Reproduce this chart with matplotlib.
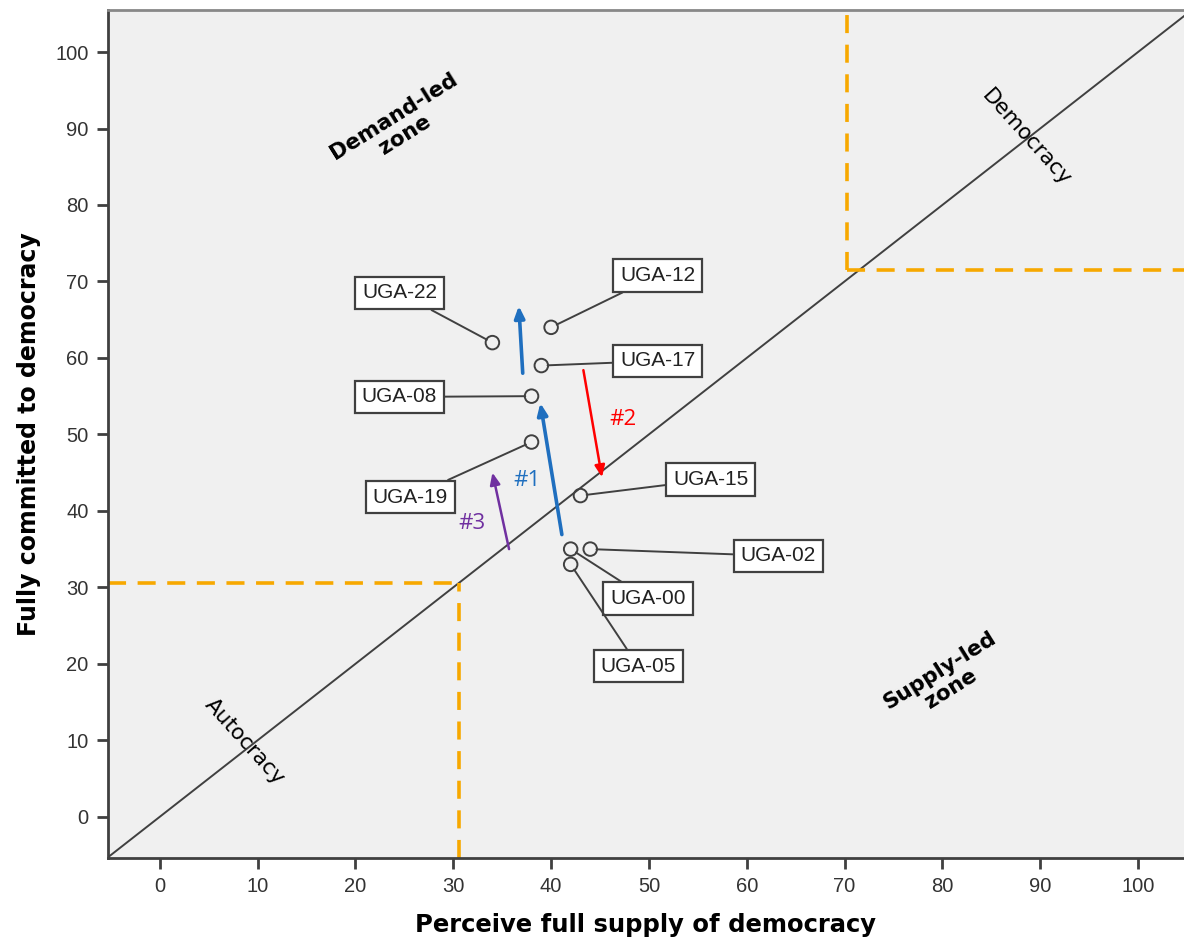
import matplotlib
matplotlib.use("Agg")
import matplotlib.pyplot as plt

# country-year points (supply x, demand y)
labels = ["UGA-22", "UGA-12", "UGA-17", "UGA-08", "UGA-19",
          "UGA-15", "UGA-00", "UGA-02", "UGA-05"]
supply = [34, 40, 39, 38, 38, 43, 42, 44, 42]
demand = [62, 64, 59, 55, 49, 42, 35, 35, 33]
# where the label boxes sit
label_x = [24.5, 50.9, 50.9, 24.5, 25.6, 56.3, 49.9, 63.2, 48.9]
label_y = [68.5, 70.8, 59.6, 54.9, 41.8, 44.1, 28.5, 34.1, 19.7]

# trajectory arrows: name, start, end, colour, label position
arrows = [
    ("#1", (41.1, 36.9), (38.9, 54.1), "#1f6fbf", (37.5, 44.0)),
    ("", (37.1, 58.0), (36.7, 66.8), "#1f6fbf", None),
    ("#2", (43.3, 58.4), (45.2, 44.4), "#ff0000", (47.4, 51.9)),
    ("#3", (35.7, 35.0), (34.0, 45.0), "#7030a0", (31.9, 38.4)),
]

low_cut = 30.6
high_x, high_y = 70.2, 71.5

fig = plt.figure(figsize=(11.84, 9.5), dpi=100)
ax = fig.add_axes([0.0912, 0.0968, 0.9088, 0.8927])
ax.set_facecolor("#f0f0f0")
ax.set_xlim(-5.3, 104.7)
ax.set_ylim(-5.4, 105.5)

dark = "#404040"
orange = "#f7a800"

# 45 degree line
ax.plot([-10, 110], [-10, 110], color=dark, lw=1.4, zorder=2)

# orange threshold lines
dash = (0, (5, 3.2))
ax.plot([low_cut, low_cut], [-5.4, low_cut], color=orange, lw=2.6, ls=dash, zorder=2)
ax.plot([-5.3, low_cut], [low_cut, low_cut], color=orange, lw=2.6, ls=dash, zorder=2)
ax.plot([high_x, high_x], [high_y, 105.5], color=orange, lw=2.6, ls=dash, zorder=2)
ax.plot([high_x, 104.7], [high_y, high_y], color=orange, lw=2.6, ls=dash, zorder=2)

# points
ax.scatter(supply, demand, s=95, facecolors="none", edgecolors=dark,
           linewidths=1.4, zorder=4)

for lab, x, y, lx, ly in zip(labels, supply, demand, label_x, label_y):
    ax.annotate(lab, xy=(x, y), xytext=(lx, ly), ha="center", va="center",
                fontsize=15, family="Liberation Sans", color="#222222",
                bbox=dict(boxstyle="square,pad=0.33", fc="white", ec=dark, lw=1.6),
                arrowprops=dict(arrowstyle="-", color=dark, lw=1.4,
                                shrinkA=0, shrinkB=4.5),
                zorder=5)

for name, start, end, col, tpos in arrows:
    ax.annotate("", xy=end, xytext=start,
                arrowprops=dict(arrowstyle="-|>,head_length=0.7,head_width=0.3",
                                color=col, lw=2.6 if col == "#1f6fbf" else 1.8,
                                shrinkA=0, shrinkB=0), zorder=3)
    if tpos is not None:
        ax.text(tpos[0], tpos[1], name, color=col, fontsize=16,
                family="Open Sans", ha="center", va="center")

# zone annotations
ax.text(24.5, 90.4, "Demand-led\nzone", rotation=32, ha="center", va="center",
        fontsize=15.5, fontweight="bold", family="DejaVu Sans", linespacing=1.1)
ax.text(80.3, 17.9, "Supply-led\nzone", rotation=32, ha="center", va="center",
        fontsize=15.5, fontweight="bold", family="DejaVu Sans", linespacing=1.1)
ax.text(88.6, 88.8, "Democracy", rotation=-48, ha="center", va="center",
        fontsize=15.5, family="DejaVu Sans")
ax.text(8.7, 9.8, "Autocracy", rotation=-48, ha="center", va="center",
        fontsize=15.5, family="DejaVu Sans")

ticks = list(range(0, 101, 10))
ax.set_xticks(ticks)
ax.set_yticks(ticks)
ax.tick_params(axis="both", direction="out", length=8, width=2, color=dark,
               labelsize=14.5, labelcolor="#333333", pad=6)
for lbl in ax.get_xticklabels() + ax.get_yticklabels():
    lbl.set_family("Liberation Sans")

for side in ["left", "bottom"]:
    ax.spines[side].set_color(dark)
    ax.spines[side].set_linewidth(2)
ax.spines["top"].set_color("#888888")
ax.spines["top"].set_linewidth(2)
ax.spines["right"].set_visible(False)

ax.set_xlabel("Perceive full supply of democracy", fontsize=17.5,
              fontweight="bold", family="DejaVu Sans", labelpad=12)
ax.set_ylabel("Fully committed to democracy", fontsize=17,
              fontweight="bold", family="DejaVu Sans", labelpad=10)

fig.savefig("out.png", dpi=100)
